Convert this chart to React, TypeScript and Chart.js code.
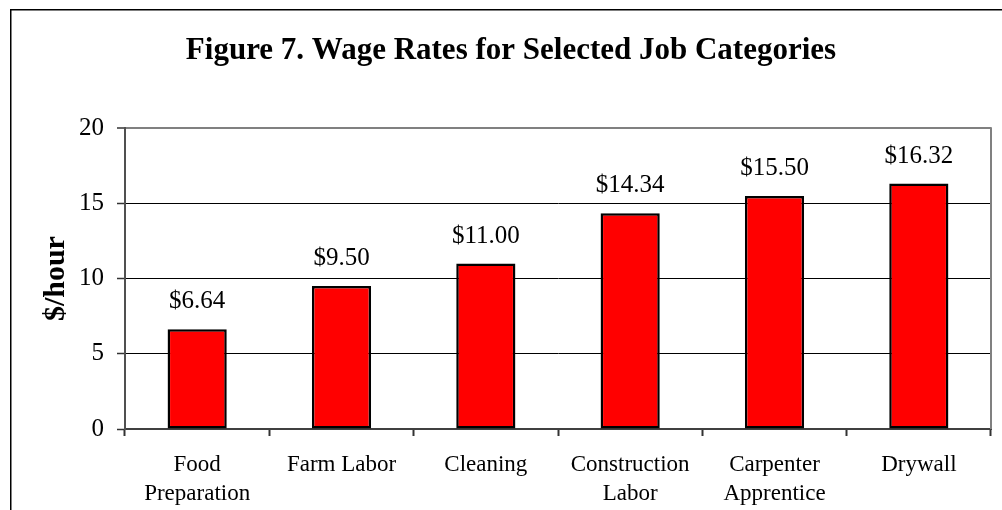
import React, { useEffect, useRef } from 'react';
import { Chart, registerables } from 'chart.js';

Chart.register(...registerables);

const titleText = 'Figure 7. Wage Rates for Selected Job Categories';
const yAxisTitle = '$/hour';
const categories: (string | string[])[] = [
  ['Food', 'Preparation'],
  'Farm Labor',
  'Cleaning',
  ['Construction', 'Labor'],
  ['Carpenter', 'Apprentice'],
  'Drywall',
];
const wages = [6.64, 9.5, 11.0, 14.34, 15.5, 16.32];
const yMin = 0;
const yMax = 20;
const yStep = 5;

const FONT = '"Liberation Serif", "Times New Roman", serif';

const framePlugin = {
  id: 'frameAndLabels',
  beforeDraw(chart: any) {
    const { ctx, width, height } = chart;
    ctx.save();
    ctx.fillStyle = '#ffffff';
    ctx.fillRect(0, 0, width, height);
    ctx.restore();
  },
  afterDraw(chart: any) {
    const { ctx, chartArea } = chart;
    ctx.save();
    // outer frame (left and top edges visible)
    ctx.strokeStyle = '#000000';
    ctx.lineWidth = 1.5;
    ctx.beginPath();
    ctx.moveTo(10.75, chart.height);
    ctx.lineTo(10.75, 9.75);
    ctx.lineTo(chart.width, 9.75);
    ctx.stroke();
    // right border of plot area
    ctx.strokeStyle = '#808080';
    ctx.lineWidth = 2;
    ctx.beginPath();
    ctx.moveTo(chartArea.right, chartArea.top - 1);
    ctx.lineTo(chartArea.right, chartArea.bottom);
    ctx.stroke();
    // value labels
    const meta = chart.getDatasetMeta(0);
    ctx.font = `25px ${FONT}`;
    ctx.fillStyle = '#000000';
    ctx.textAlign = 'center';
    ctx.textBaseline = 'alphabetic';
    meta.data.forEach((bar: any, i: number) => {
      ctx.fillText('$' + wages[i].toFixed(2), bar.x, bar.y - 21);
    });
    ctx.restore();
  },
};

export default function App() {
  const canvasRef = useRef<HTMLCanvasElement | null>(null);

  useEffect(() => {
    if (!canvasRef.current) return;
    const chart = new Chart(canvasRef.current, {
      type: 'bar',
      data: {
        labels: categories,
        datasets: [
          {
            data: wages,
            backgroundColor: '#ff0000',
            borderColor: '#000000',
            borderWidth: 2.5,
            borderSkipped: false,
            barPercentage: 0.41,
            categoryPercentage: 1,
          },
        ],
      },
      options: {
        responsive: false,
        animation: false,
        layout: { padding: { left: 31, right: 11, top: 0, bottom: 0 } },
        plugins: {
          legend: { display: false },
          tooltip: { enabled: false },
          title: {
            display: true,
            text: titleText,
            color: '#000000',
            font: { family: FONT, size: 31, weight: 'bold', lineHeight: 1.2 },
            padding: { top: 32, bottom: 59 },
          },
        },
        scales: {
          x: {
            offset: true,
            grid: {
              display: true,
              offset: true,
              drawOnChartArea: false,
              drawTicks: true,
              tickLength: 7,
              tickColor: '#333333',
              tickWidth: 2,
            },
            border: { display: true, color: '#404040', width: 2 },
            ticks: {
              color: '#000000',
              font: { family: FONT, size: 23, lineHeight: 1.27 },
              padding: 14,
              maxRotation: 0,
              autoSkip: false,
            },
            afterFit(scale: any) {
              scale.height = 81;
            },
          },
          y: {
            min: yMin,
            max: yMax,
            grid: {
              color: (c: any) => (c.tick && c.tick.value === yMax ? '#808080' : c.tick && c.tick.value === yMin ? 'rgba(0,0,0,0)' : '#000000'),
              lineWidth: (c: any) => (c.tick && c.tick.value === yMax ? 2 : 1),
              tickLength: 8,
              tickColor: '#333333',
              tickWidth: 1.5,
            },
            border: { display: true, color: '#505050', width: 2 },
            ticks: {
              stepSize: yStep,
              color: '#000000',
              font: { family: FONT, size: 25 },
              padding: 13,
            },
            title: {
              display: true,
              text: yAxisTitle,
              color: '#000000',
              font: { family: FONT, size: 30, weight: 'bold', lineHeight: 1.2 },
              padding: { top: 7, bottom: 0 },
            },
            afterFit(scale: any) {
              scale.width = 94;
            },
          },
        },
      },
      plugins: [framePlugin],
    });
    return () => chart.destroy();
  }, []);

  return (
    <canvas
      ref={canvasRef}
      width={1002}
      height={510}
      style={{ position: 'fixed', left: 0, top: 0, display: 'block', width: '1002px', height: '510px' }}
    />
  );
}
